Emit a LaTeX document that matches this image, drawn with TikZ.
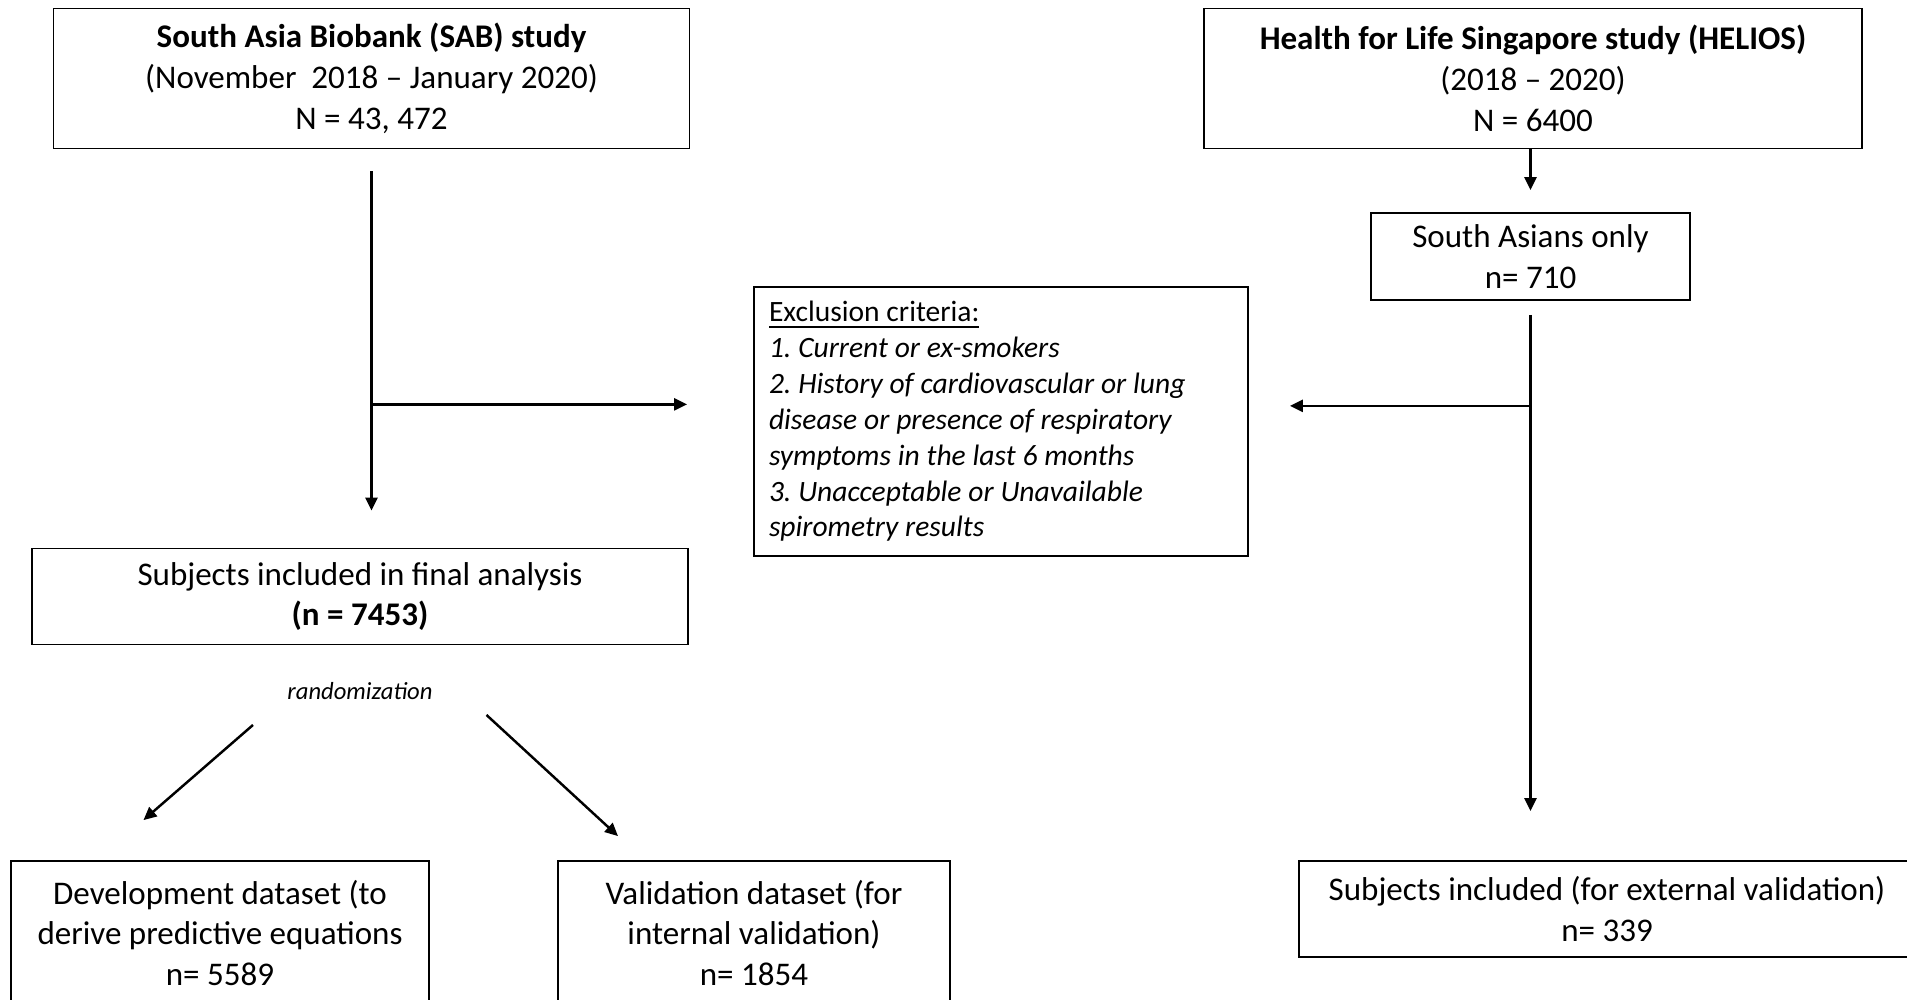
\documentclass[tikz,border=0pt]{standalone}
\usepackage{fontspec}
\setmainfont{Carlito}
\usetikzlibrary{arrows.meta,positioning}

\newcommand{\critspacing}{\frenchspacing\spaceskip=1.95pt plus 0.5pt minus 0.3pt\relax}

\tikzset{
  box/.style={draw, line width=0.5pt, align=center, inner sep=0pt,
    font=\fontsize{9.4}{11.6}\selectfont},
  critbox/.style={draw, line width=0.5pt, align=left, inner xsep=0.15cm, inner ysep=0pt,
    text width=4.64cm, minimum height=2.69cm, font=\fontsize{8.4}{10.2}\selectfont},
  arr/.style={line width=0.7pt, -{Triangle[length=1.3mm,width=1.2mm]}},
}

\begin{document}
\begin{tikzpicture}
	\useasboundingbox (0,0) rectangle (19.07,10);
	% two cohorts
	\node[box, minimum width=6.36cm, minimum height=1.40cm] (sab) at (3.715,9.215)
		{\textbf{South Asia Biobank (SAB) study}\\(November~ 2018 -- January 2020)\\N = 43, 472};
	\node[box, minimum width=6.58cm, minimum height=1.40cm] (helios) at (15.33,9.215)
		{\textbf{Health for Life Singapore study (HELIOS)}\\(2018 -- 2020)\\N = 6400};
	\node[box, minimum width=3.19cm, minimum height=0.87cm] (southasian) at (15.305,7.435)
		{South Asians only\\n= 710};
	\node[critbox] (exclusion) at (10.01,5.785)
		{\critspacing\underline{Exclusion criteria:}\\
		\textit{1. Current or ex-smokers}\\
		\textit{2. History of cardiovascular or lung}\\
		\textit{disease or presence of respiratory}\\
		\textit{symptoms in the last 6 months}\\
		\textit{3. Unacceptable or Unavailable}\\
		\textit{spirometry results}};
	\node[box, minimum width=6.56cm, minimum height=0.96cm] (final) at (3.60,4.035)
		{Subjects included in final analysis\\\textbf{(n = 7453)}};
	\node[font=\fontsize{7}{8}\selectfont\itshape] (rand) at (3.60,3.09) {randomization};
	\node[box, minimum width=4.18cm, minimum height=1.44cm] (dev) at (2.20,0.67)
		{Development dataset (to\\derive predictive equations\\n= 5589};
	\node[box, minimum width=3.92cm, minimum height=1.44cm] (valid) at (7.54,0.67)
		{Validation dataset (for\\internal validation)\\n= 1854};
	\node[box, minimum width=6.16cm, minimum height=0.96cm] (external) at (16.07,0.91)
		{Subjects included (for external validation)\\n= 339};
	% SAB flow
	\coordinate (sabjoin) at ([yshift=-2.55cm]sab.south);
	\draw[arr] ([yshift=-0.22cm]sab.south) -- ([yshift=0.37cm]sab.south |- final.north);
	\draw[arr] (sabjoin) -- ([xshift=-0.66cm]exclusion.west |- sabjoin);
	% HELIOS flow
	\coordinate (sajoin) at ([yshift=-1.05cm]southasian.south);
	\draw[arr] (helios.south -| southasian.north) -- ([yshift=0.22cm]southasian.north);
	\draw[arr] ([yshift=-0.14cm]southasian.south) -- ([yshift=0.49cm]southasian.south |- external.north);
	\draw[arr] (sajoin) -- ([xshift=0.41cm]exclusion.east |- sajoin);
	% randomization split
	\draw[arr] ([shift={(-1.07,-0.34)}]rand.center) -- ([shift={(-0.765,0.40)}]dev.north);
	\draw[arr] ([shift={(1.265,-0.24)}]rand.center) -- ([shift={(-1.36,0.24)}]valid.north);
\end{tikzpicture}
\end{document}
